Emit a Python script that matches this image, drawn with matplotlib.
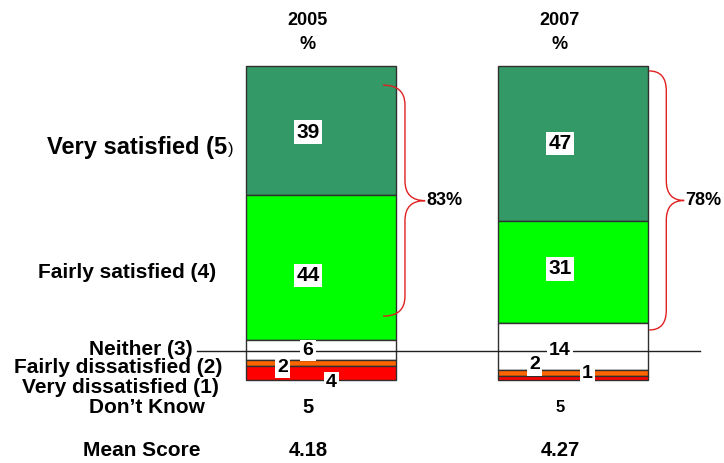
import matplotlib.pyplot as plt
from matplotlib.path import Path
from matplotlib.patches import PathPatch

plt.rcParams['font.family'] = ['Liberation Sans', 'DejaVu Sans']
plt.rcParams['font.weight'] = 'bold'

# data
years = ['2005', '2007']
very_satisfied = [39, 47]
fairly_satisfied = [44, 31]
neither = [6, 14]
fairly_dissatisfied = [2, 2]
very_dissatisfied = [4, 1]
dont_know = [5, 5]
mean_score = [4.18, 4.27]
row_labels = ['Fairly satisfied (4)', 'Neither (3)', 'Fairly dissatisfied (2)',
              'Very dissatisfied (1)', 'Don\u2019t Know', 'Mean Score']

segments = [very_satisfied, fairly_satisfied, neither, fairly_dissatisfied, very_dissatisfied]
colors = ['#339966', '#00ff00', '#ffffff', '#ff6600', '#ff0000']

# layout (data units: x = bar index, y = percent downward from bar top)
label_pos = [(-0.417, 62.7), (-0.508, 86.0), (-0.393, 91.5),
             (-0.405, 97.3), (-0.46, 103.6), (-0.48, 116.4)]
col_shift = -0.052  # column texts sit a little left of the bar centre
small_dx = [[0, 0], [0, 0], [0, 0], [-0.10, -0.10], [0.094, 0.11]]
small_dy = [[0.5, 0], [2.4, -1.0], [0.3, 1.3], [1.4, -2.4], [3.0, -1.2]]
brace_x0 = [0.246, 0.302]
brace_w = [(0.087, 0.167), (0.068, 0.139)]
brace_pad = [(5.8, 7.2), (1.5, -2.0)]
x = [0, 1]
width = 0.595

fig = plt.figure(figsize=(7.24, 4.63), dpi=100)
ax = fig.add_axes([0, 0, 1, 1])
ax.set_xlim(-1.274, 1.599)
ax.set_ylim(120.3, -20)
ax.axis('off')

bottoms = [0, 0]
for seg, col in zip(segments, colors):
    ax.bar(x, seg, width=width, bottom=bottoms, color=col, edgecolor='#303030',
           linewidth=1, zorder=2)
    bottoms = [b + v for b, v in zip(bottoms, seg)]

# horizontal reference line through the "neither" row
ax.plot([-0.492, 1.504], [86.3, 86.3], color='#202020', lw=1, zorder=3)

# segment values
bottoms = [0, 0]
for k, seg in enumerate(segments):
    for i in range(2):
        yc = bottoms[i] + seg[i] / 2 + small_dy[k][i]
        fs = 15 if k < 2 else 14
        ax.text(x[i] + col_shift + small_dx[k][i], yc, str(seg[i]), ha='center',
                va='center', fontsize=fs, zorder=5,
                bbox=dict(facecolor='white', edgecolor='none', pad=1.5))
    bottoms = [b + v for b, v in zip(bottoms, seg)]

# headers, don't know, mean score
for i in range(2):
    xc = x[i] + col_shift
    ax.text(xc, -13.9, years[i], ha='center', va='center', fontsize=13)
    ax.text(xc, -6.4, '%', ha='center', va='center', fontsize=13)
    ax.text(xc, 103.6, str(dont_know[i]), ha='center', va='center',
            fontsize=14.5 if i == 0 else 12)
    ax.text(xc, 116.4, f'{mean_score[i]:.2f}', ha='center', va='center', fontsize=14.5)

# row labels
ax.text(-0.373, 24.8, 'Very satisfied (5', ha='right', va='center', fontsize=17)
ax.text(-0.371, 25.2, ')', ha='left', va='center', fontsize=12, fontweight='normal')
for lab, (lx, ly) in zip(row_labels, label_pos):
    ax.text(lx, ly, lab, ha='right', va='center', fontsize=15)


def brace(x0, yt, yb, w1, w2, r=6.0):
    ym = (yt + yb) / 2
    verts = [(x0, yt), (x0 + w1, yt), (x0 + w1, yt + r),
             (x0 + w1, ym - r),
             (x0 + w1, ym), (x0 + w2, ym),
             (x0 + w1, ym), (x0 + w1, ym + r),
             (x0 + w1, yb - r),
             (x0 + w1, yb), (x0, yb)]
    codes = [Path.MOVETO, Path.CURVE3, Path.CURVE3, Path.LINETO,
             Path.CURVE3, Path.CURVE3, Path.CURVE3, Path.CURVE3,
             Path.LINETO, Path.CURVE3, Path.CURVE3]
    ax.add_patch(PathPatch(Path(verts, codes), facecolor='none',
                           edgecolor='#e02020', lw=1, zorder=4))
    return x0 + w2, ym


for i in range(2):
    top = brace_pad[i][0]
    bot = very_satisfied[i] + fairly_satisfied[i] - brace_pad[i][1]
    tx, ty = brace(x[i] + brace_x0[i], top, bot, *brace_w[i])
    ax.text(tx + 0.005, ty, f'{very_satisfied[i] + fairly_satisfied[i]}%',
            ha='left', va='center', fontsize=13)

fig.savefig('out.png', dpi=100)
